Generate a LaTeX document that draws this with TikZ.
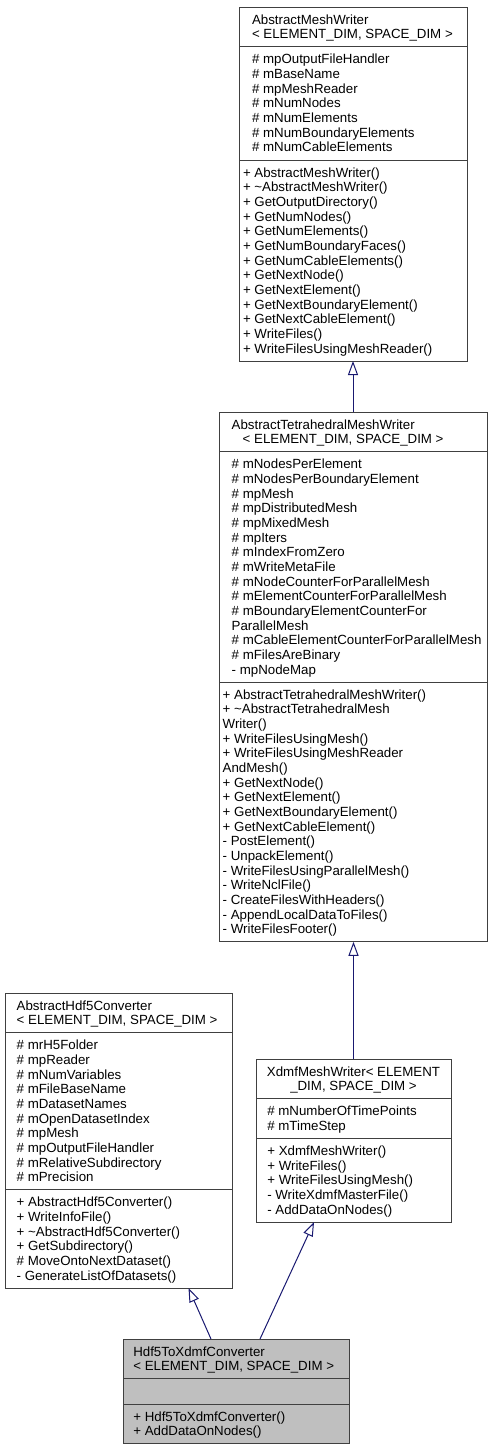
\documentclass[tikz,border=0pt]{standalone}
\usepackage{fontspec}
\setmainfont{Liberation Sans}
\usetikzlibrary{arrows.meta}
\definecolor{edgeblue}{HTML}{191970}
\definecolor{boxgray}{HTML}{BFBFBF}
\definecolor{boxline}{HTML}{404040}
\tikzset{
  classbox/.style={draw=boxline, line width=1pt, inner sep=0pt, outer sep=0pt, anchor=north west, fill=white},
  sepline/.style={draw=boxline, line width=1pt},
  txt/.style={anchor=base west, inner sep=0pt, outer sep=0pt, font=\fontsize{13.3}{14.67}\selectfont},
  ctxt/.style={txt, anchor=base},
  inherit/.style={draw=edgeblue, line width=1pt, -{Triangle[open, length=14pt, width=10pt]}},
}
\begin{document}
\begin{tikzpicture}[x=1pt,y=-1pt]
\useasboundingbox (0,0) rectangle (492,1451);

% ---------------- AbstractMeshWriter
\node[classbox, minimum width=228pt, minimum height=354pt] (amw) at (239,7) {};
\draw[sepline] (239,46.7) -- (467,46.7);
\draw[sepline] (239,160) -- (467,160);
\foreach \t [count=\i from 0] in {AbstractMeshWriter, {< ELEMENT\_DIM, SPACE\_DIM >}}
  \node[txt] (amwT\i) at (252, {24+\i*14.67}) {\t};
\foreach \t [count=\i from 0] in {\# mpOutputFileHandler, \# mBaseName, \# mpMeshReader, \# mNumNodes, \# mNumElements, \# mNumBoundaryElements, \# mNumCableElements}
  \node[txt] (amwA\i) at (252, {63.7+\i*14.67}) {\t};
\foreach \t [count=\i from 0] in {+ AbstractMeshWriter(), + \textasciitilde AbstractMeshWriter(), + GetOutputDirectory(), + GetNumNodes(), + GetNumElements(), + GetNumBoundaryFaces(), + GetNumCableElements(), + GetNextNode(), + GetNextElement(), + GetNextBoundaryElement(), + GetNextCableElement(), + WriteFiles(), + WriteFilesUsingMeshReader()}
  \node[txt] (amwM\i) at (243, {177+\i*14.67}) {\t};

% ---------------- AbstractTetrahedralMeshWriter
\node[classbox, minimum width=268pt, minimum height=529.8pt] (tet) at (219,412) {};
\draw[sepline] (219,451.7) -- (487,451.7);
\draw[sepline] (219,682.1) -- (487,682.1);
\node[txt] (tetT0) at (231.7,429) {AbstractTetrahedralMeshWriter};
\node[txt] (tetT1) at (242.7,443.67) {< ELEMENT\_DIM, SPACE\_DIM >};
\foreach \t [count=\i from 0] in {\# mNodesPerElement, \# mNodesPerBoundaryElement, \# mpMesh, \# mpDistributedMesh, \# mpMixedMesh, \# mpIters, \# mIndexFromZero, \# mWriteMetaFile, \# mNodeCounterForParallelMesh, \# mElementCounterForParallelMesh, \# mBoundaryElementCounterFor, ParallelMesh, \# mCableElementCounterForParallelMesh, \# mFilesAreBinary, - mpNodeMap}
  \node[txt] (tetA\i) at (231.7, {468.7+\i*14.67}) {\t};
\foreach \t [count=\i from 0] in {+ AbstractTetrahedralMeshWriter(), + \textasciitilde AbstractTetrahedralMesh, Writer(), + WriteFilesUsingMesh(), + WriteFilesUsingMeshReader, AndMesh(), + GetNextNode(), + GetNextElement(), + GetNextBoundaryElement(), + GetNextCableElement(), - PostElement(), - UnpackElement(), - WriteFilesUsingParallelMesh(), - WriteNclFile(), - CreateFilesWithHeaders(), - AppendLocalDataToFiles(), - WriteFilesFooter()}
  \node[txt] (tetM\i) at (222.7, {699.1+\i*14.67}) {\t};

% ---------------- AbstractHdf5Converter
\node[classbox, minimum width=227pt, minimum height=295pt] (hdf) at (5,993) {};
\draw[sepline] (5,1032.7) -- (232,1032.7);
\draw[sepline] (5,1189.7) -- (232,1189.7);
\foreach \t [count=\i from 0] in {AbstractHdf5Converter, {< ELEMENT\_DIM, SPACE\_DIM >}}
  \node[txt] (hdfT\i) at (16.7, {1010+\i*14.67}) {\t};
\foreach \t [count=\i from 0] in {\# mrH5Folder, \# mpReader, \# mNumVariables, \# mFileBaseName, \# mDatasetNames, \# mOpenDatasetIndex, \# mpMesh, \# mpOutputFileHandler, \# mRelativeSubdirectory, \# mPrecision}
  \node[txt] (hdfA\i) at (16.7, {1049.7+\i*14.67}) {\t};
\foreach \t [count=\i from 0] in {+ AbstractHdf5Converter(), + WriteInfoFile(), + \textasciitilde AbstractHdf5Converter(), + GetSubdirectory(), \# MoveOntoNextDataset(), - GenerateListOfDatasets()}
  \node[txt] (hdfM\i) at (16.7, {1206.7+\i*14.67}) {\t};

% ---------------- XdmfMeshWriter
\node[classbox, minimum width=195pt, minimum height=163.1pt] (xdmf) at (256,1059) {};
\draw[sepline] (256,1098.7) -- (451,1098.7);
\draw[sepline] (256,1138.4) -- (451,1138.4);
\node[ctxt] (xdmfT0) at (353.5,1076) {XdmfMeshWriter< ELEMENT};
\node[ctxt] (xdmfT1) at (353.5,1090.67) {\_DIM, SPACE\_DIM >};
\foreach \t [count=\i from 0] in {\# mNumberOfTimePoints, \# mTimeStep}
  \node[txt] (xdmfA\i) at (267.3, {1115.7+\i*14.67}) {\t};
\foreach \t [count=\i from 0] in {+ XdmfMeshWriter(), + WriteFiles(), + WriteFilesUsingMesh(), - WriteXdmfMasterFile(), - AddDataOnNodes()}
  \node[txt] (xdmfM\i) at (267.3, {1155.4+\i*14.67}) {\t};

% ---------------- Hdf5ToXdmfConverter
\node[classbox, fill=boxgray, minimum width=226pt, minimum height=104.7pt] (h2x) at (123,1339) {};
\draw[sepline] (123,1378.7) -- (349,1378.7);
\draw[sepline] (123,1404) -- (349,1404);
\foreach \t [count=\i from 0] in {Hdf5ToXdmfConverter, {< ELEMENT\_DIM, SPACE\_DIM >}}
  \node[txt] (h2xT\i) at (133.3, {1356+\i*14.67}) {\t};
\foreach \t [count=\i from 0] in {+ Hdf5ToXdmfConverter(), + AddDataOnNodes()}
  \node[txt] (h2xM\i) at (133.3, {1421+\i*14.67}) {\t};

% ---------------- inheritance connectors
\draw[inherit] (tet.north) -- (amw.south);
\draw[inherit] (xdmf.north) -- (xdmf.north |- tet.south);
\draw[inherit] ([xshift=-25pt]h2x.north) -- ([xshift=70pt]hdf.south);
\draw[inherit] ([xshift=24pt]h2x.north) -- ([xshift=-39.5pt]xdmf.south);
\end{tikzpicture}
\end{document}
